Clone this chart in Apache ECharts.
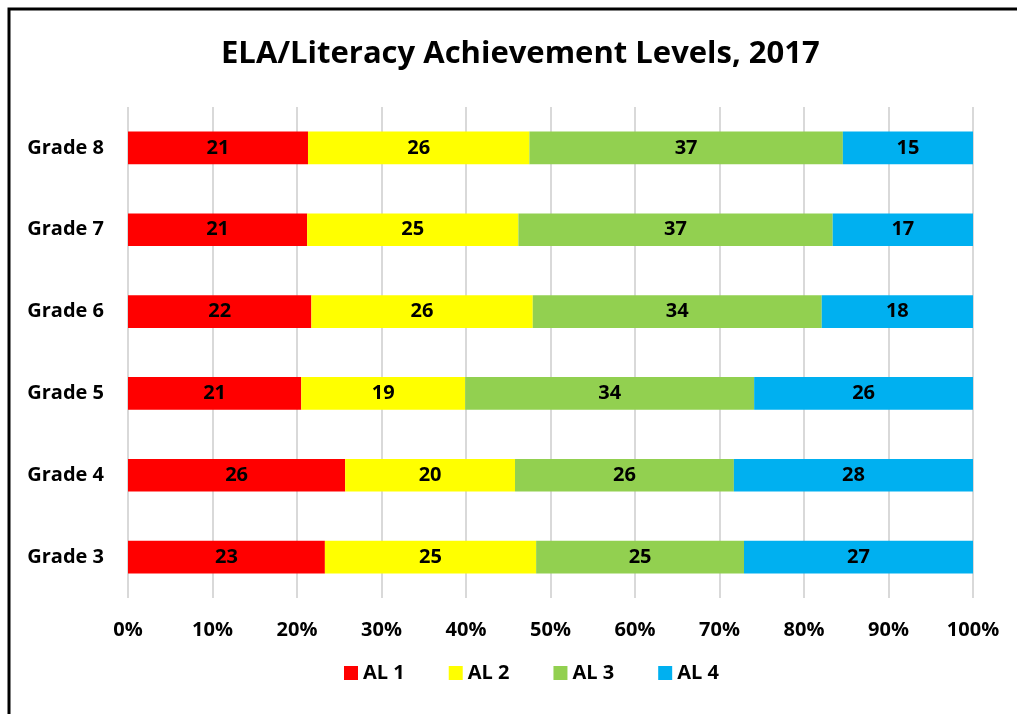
<!DOCTYPE html>
<html>
<head>
<meta charset="utf-8">
<script src="https://cdn.jsdelivr.net/npm/echarts@6/dist/echarts.min.js"></script>
<style>
  html, body { margin: 0; padding: 0; background: #fff; }
  #chart { width: 1017px; height: 714px; }
</style>
</head>
<body>
<div id="chart"></div>
<script>
// grades bottom to top
var grades = ['Grade 3', 'Grade 4', 'Grade 5', 'Grade 6', 'Grade 7', 'Grade 8']
var levelNames = ['AL 1', 'AL 2', 'AL 3', 'AL 4']
var al1 = [23.3, 25.7, 20.5, 21.7, 21.2, 21.3]
var al2 = [25.0, 20.1, 19.4, 26.2, 25.0, 26.2]
var al3 = [24.6, 25.9, 34.2, 34.2, 37.2, 37.1]
var al4 = [27.1, 28.3, 25.9, 17.9, 16.6, 15.4]
var colors = ['#FF0000', '#FFFF00', '#92D050', '#00B0F0']

var font = 'Open Sans'
var myChart = echarts.init(document.getElementById('chart'), null, { renderer: 'canvas' })

function makeSeries(name, data, color) {
  return {
    name: name,
    type: 'bar',
    stack: 'total',
    data: data,
    barCategoryGap: '60%',
    itemStyle: { color: color },
    label: {
      show: true,
      position: 'inside',
      color: '#000',
      fontFamily: font,
      fontWeight: 'bold',
      fontSize: 20,
      formatter: function (p) { return Math.round(p.value) }
    }
  }
}

var option = {
  backgroundColor: '#fff',
  animation: false,
  title: {
    text: 'ELA/Literacy Achievement Levels, 2017',
    left: 216,
    top: 34,
    textStyle: { fontFamily: font, fontWeight: 'bold', fontSize: 31, color: '#000' }
  },
  graphic: [{
    type: 'rect',
    shape: { x: 9, y: 9, width: 1100, height: 800 },
    style: { fill: 'none', stroke: '#000', lineWidth: 3 },
    silent: true
  }],
  legend: {
    data: levelNames,
    bottom: 26,
    left: 339,
    itemWidth: 14,
    itemHeight: 14,
    itemGap: 44,
    icon: 'rect',
    textStyle: { fontFamily: font, fontWeight: 'bold', fontSize: 20, color: '#000' }
  },
  grid: { left: 128, right: 44, top: 107, bottom: 116 },
  xAxis: {
    type: 'value',
    min: 0,
    max: 100,
    interval: 10,
    axisLine: { show: false },
    axisTick: { show: false },
    splitLine: { show: true, lineStyle: { color: '#D9D9D9', width: 2 } },
    axisLabel: {
      margin: 22,
      formatter: '{value}%',
      fontFamily: font, fontWeight: 'bold', fontSize: 20, color: '#000'
    }
  },
  yAxis: {
    type: 'category',
    data: grades,
    axisLine: { show: false },
    axisTick: { show: false },
    axisLabel: { margin: 24, fontFamily: font, fontWeight: 'bold', fontSize: 20, color: '#000' }
  },
  series: [
    makeSeries(levelNames[0], al1, colors[0]),
    makeSeries(levelNames[1], al2, colors[1]),
    makeSeries(levelNames[2], al3, colors[2]),
    makeSeries(levelNames[3], al4, colors[3])
  ]
}
myChart.setOption(option)
</script>
</body>
</html>
